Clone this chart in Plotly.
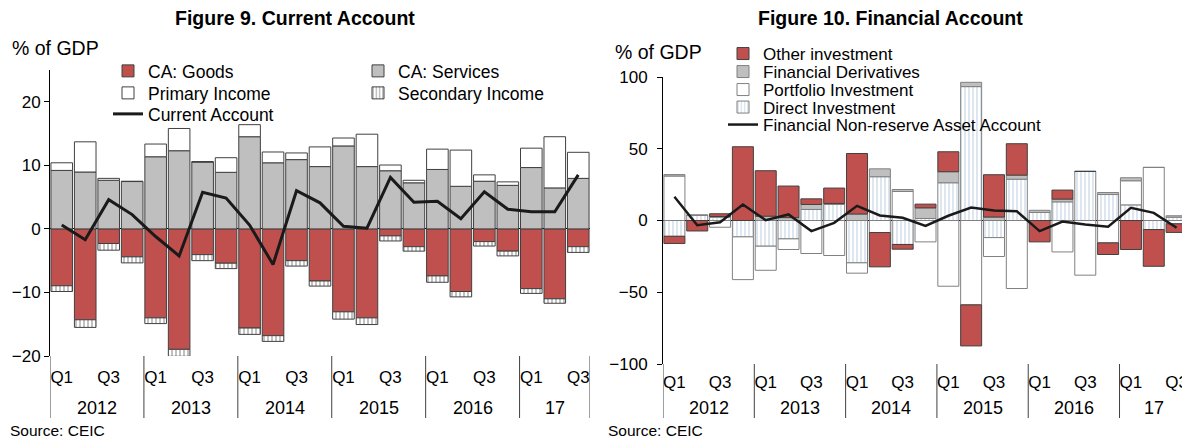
"""Figure 9 / Figure 10: current account and financial account, % of GDP."""

import plotly.graph_objects as go

# the page body has an 8px margin, so the figure is drawn 8px in from the window corner
PAGE_OFF = 8
W, H = 1190 - PAGE_OFF, 439 - PAGE_OFF

years = ["2012", "2013", "2014", "2015", "2016", "17"]
quarters = ["Q1", "Q2", "Q3", "Q4"] * 5 + ["Q1", "Q2", "Q3"]
year_of_quarter = [y for y in years[:-1] for _ in range(4)] + ["17"] * 3

# Figure 9 - current account components (% of GDP)
ca_goods = [-8.95, -14.3, -2.3, -4.4, -14.0, -18.95, -4.05, -5.4, -15.6, -16.8, -5.0, -8.2,
            -13.05, -14.0, -1.1, -2.8, -7.4, -9.85, -2.0, -3.5, -9.4, -11.0, -2.8]
ca_services = [9.2, 8.95, 7.65, 7.45, 11.35, 12.3, 10.5, 8.9, 14.5, 10.4, 10.9, 9.8,
               13.05, 9.8, 9.15, 7.25, 9.35, 6.7, 7.5, 6.85, 9.65, 6.45, 7.95]
primary_income = [1.2, 4.75, 0.3, 0.05, 2.0, 3.5, 0.1, 2.3, 1.9, 1.7, 1.05, 3.1,
                  1.25, 5.1, 0.9, 0.4, 3.2, 5.7, 1.0, 0.55, 3.05, 8.05, 4.1]
secondary_income = [-0.9, -1.2, -1.05, -0.95, -0.9, -1.1, -0.95, -0.85, -1.0, -0.9, -0.85, -0.8,
                    -1.15, -1.05, -0.8, -0.7, -1.0, -0.85, -0.7, -0.75, -0.75, -0.7, -0.9]
current_account = [0.6, -1.7, 4.6, 2.25, -1.2, -4.25, 5.75, 4.85, 0.6, -5.6, 6.0, 4.1,
                   0.4, 0.1, 8.1, 4.2, 4.35, 1.6, 5.85, 3.1, 2.7, 2.7, 8.5]

# Figure 10 - financial account components (% of GDP)
direct_inv = [-11.0, 3.5, 2.3, -11.4, -17.9, -12.8, 7.7, 11.2, -29.5, 30.5, -16.7, 1.4,
              26.3, 93.3, -11.9, 28.8, 5.6, 13.0, 34.2, 18.1, 10.9, -6.3, 2.3]
portfolio_inv = [31.0, 0.0, -4.7, -29.8, -16.8, -7.4, -23.0, -24.4, -7.2, -8.4, 20.2, -14.9,
                 -45.8, -58.8, -13.2, -47.4, 0.0, -21.9, -38.1, -15.6, 16.8, 37.0, -2.3]
fin_derivatives = [1.0, 0.5, 0.5, 0.0, 3.0, 2.0, 3.5, 0.7, 4.5, 5.5, 1.4, 7.4,
                   7.7, 3.0, 2.4, 2.8, 1.5, 1.9, 0.0, 1.4, 2.1, 0.0, 1.0]
other_inv = [-5.0, -7.3, 1.9, 51.4, 31.7, 22.0, 3.9, 10.7, 42.2, -23.9, -3.3, 2.6,
             13.9, -28.6, 29.5, 21.9, -14.9, 6.3, 0.0, -8.1, -20.2, -25.6, -6.0]
fin_account = [16.5, -3.3, -1.2, 11.2, 0.2, 4.2, -7.4, -1.6, 10.2, 3.5, 1.9, -3.7,
               3.3, 9.0, 7.0, 6.5, -7.4, -0.7, -2.8, -4.4, 8.8, 5.3, -5.1]

RED = "#C0504D"
GRAY = "#BFBFBF"
DARK = "#404040"
MID = "#808080"
FONT = "Liberation Sans, Arial, sans-serif"

x = list(range(len(quarters)))


def fx(p):
    """Window pixel x -> paper."""
    return max(p - PAGE_OFF, 0) / W


def fy(p):
    """Window pixel y (from top) -> paper."""
    return 1 - (p - PAGE_OFF) / H


def legend_at(text_x, center_y, size=17.5):
    return dict(
        x=fx(text_x - 40), y=fy(center_y), xanchor="left", yanchor="middle",
        bgcolor="rgba(0,0,0,0)", borderwidth=0,
        font=dict(family=FONT, size=size, color="black"),
    )


def bar(vals, name, legend, xa, ya, color, line_color, pattern=None):
    marker = dict(color=color, line=dict(color=line_color, width=1))
    if pattern:
        marker["pattern"] = pattern
    return go.Bar(x=x, y=vals, name=name, legend=legend, xaxis=xa, yaxis=ya, marker=marker)


fig = go.Figure()

# --- Figure 9 ---
fig.add_trace(bar(ca_goods, "CA: Goods", "legend", "x", "y", RED, DARK))
fig.add_trace(bar(ca_services, "CA: Services", "legend4", "x", "y", GRAY, DARK))
fig.add_trace(bar(primary_income, "Primary Income", "legend2", "x", "y", "white", DARK))
fig.add_trace(bar(secondary_income, "Secondary Income", "legend5", "x", "y", "white", DARK,
                  dict(shape="|", fgcolor="#303030", bgcolor="white", size=4, solidity=0.3)))
fig.add_trace(go.Scatter(x=x, y=current_account, name="Current Account", legend="legend3",
                         mode="lines", line=dict(color="#1a1a1a", width=3), xaxis="x", yaxis="y"))

# --- Figure 10 --- (stack order: direct, portfolio, derivatives, other)
fig.add_trace(bar(direct_inv, "Direct Investment", "legend9", "x2", "y2", "white", MID,
                  dict(shape="|", fgcolor="#8FAECB", bgcolor="white", size=4, solidity=0.3)))
fig.add_trace(bar(portfolio_inv, "Portfolio Investment", "legend8", "x2", "y2", "white", MID))
fig.add_trace(bar(fin_derivatives, "Financial Derivatives", "legend7", "x2", "y2", GRAY, MID))
fig.add_trace(bar(other_inv, "Other investment", "legend6", "x2", "y2", RED, DARK))
fig.add_trace(go.Scatter(x=x, y=fin_account, name="Financial Non-reserve Asset Account",
                         legend="legend10", mode="lines", line=dict(color="#1a1a1a", width=2.5),
                         xaxis="x2", yaxis="y2"))

tickvals = [i for i, q in enumerate(quarters) if q in ("Q1", "Q3")]
ticktext = [quarters[i] for i in tickvals]


def xaxis(domain, anchor, ticklen):
    return dict(
        domain=domain, anchor=anchor, range=[-0.5, len(quarters) - 0.5],
        tickmode="array", tickvals=tickvals, ticktext=ticktext,
        ticks="outside", ticklen=ticklen, tickcolor="rgba(0,0,0,0)",
        showline=False, showgrid=False, zeroline=False, automargin=False,
        tickfont=dict(family=FONT, size=17, color="black"),
    )


def yaxis(domain, anchor, rng, dtick, standoff):
    return dict(
        domain=domain, anchor=anchor, range=rng, tickmode="linear", tick0=rng[0], dtick=dtick,
        showline=True, linecolor="black", linewidth=1,
        ticks="outside", ticklen=5, tickcolor="black", ticklabelstandoff=standoff,
        showgrid=False, zeroline=True, zerolinecolor="black", zerolinewidth=1,
        layer="above traces", automargin=False,
        tickfont=dict(family=FONT, size=17, color="black"),
    )


# axis frames in window pixels (left, right, top, bottom)
LEFT_BOX = (50, 590, 70, 356)
RIGHT_BOX = (663, 1188, 77, 364)

shapes = []
annotations = []


def year_labels(xref, bottom_px):
    for yr in years:
        idx = [i for i, yy in enumerate(year_of_quarter) if yy == yr]
        annotations.append(dict(
            x=(idx[0] + idx[-1]) / 2, y=fy(408), xref=xref, yref="paper", text=yr,
            showarrow=False, xanchor="center", yanchor="middle",
            font=dict(family=FONT, size=18, color="black"),
        ))
        shapes.append(dict(type="line", xref=xref, yref="paper", x0=idx[0] - 0.5, x1=idx[0] - 0.5,
                           y0=fy(bottom_px), y1=fy(418), line=dict(color=DARK, width=1)))
    shapes.append(dict(type="line", xref=xref, yref="paper", x0=len(quarters) - 0.5,
                       x1=len(quarters) - 0.5, y0=fy(bottom_px), y1=fy(418),
                       line=dict(color=DARK, width=1)))


year_labels("x", LEFT_BOX[3])
year_labels("x2", RIGHT_BOX[3])


def text(px, py, s, size, bold=False, anchor="left"):
    annotations.append(dict(
        x=fx(px), y=fy(py), xref="paper", yref="paper", showarrow=False,
        text=f"<b>{s}</b>" if bold else s, xanchor=anchor, yanchor="middle",
        font=dict(family=FONT, size=size, color="black"),
    ))


text(295, 18, "Figure 9. Current Account", 19.5, bold=True, anchor="center")
text(890, 18, "Figure 10. Financial Account", 19.5, bold=True, anchor="center")
text(10, 48, "% of GDP", 19.5)
text(613, 52, "% of GDP", 19.5)
text(1, 430, "Source: CEIC", 15.5)
text(606, 430, "Source: CEIC", 15.5)

fig.update_layout(
    width=W, height=H, margin=dict(l=0, r=0, t=0, b=0, pad=0, autoexpand=False),
    paper_bgcolor="white", plot_bgcolor="white",
    barmode="relative", bargap=0.08, showlegend=True,
    font=dict(family=FONT, color="black"),
    xaxis=xaxis([fx(LEFT_BOX[0]), fx(LEFT_BOX[1])], "y", 6),
    yaxis=yaxis([fy(LEFT_BOX[3]), fy(LEFT_BOX[2])], "x", [-20, 25], 10, 0),
    xaxis2=xaxis([fx(RIGHT_BOX[0]), fx(RIGHT_BOX[1])], "y2", 3),
    yaxis2=yaxis([fy(RIGHT_BOX[3]), fy(RIGHT_BOX[2])], "x2", [-100, 100], 50, 6),
    legend=legend_at(148, 71),
    legend2=legend_at(148, 93),
    legend3=legend_at(148, 114),
    legend4=legend_at(398, 71),
    legend5=legend_at(398, 93),
    legend6=legend_at(763, 54, 17),
    legend7=legend_at(763, 72, 17),
    legend8=legend_at(763, 90, 17),
    legend9=legend_at(763, 107.5, 17),
    legend10=legend_at(763, 125, 17),
    shapes=shapes,
    annotations=annotations,
)

fig.write_html("out.html")
